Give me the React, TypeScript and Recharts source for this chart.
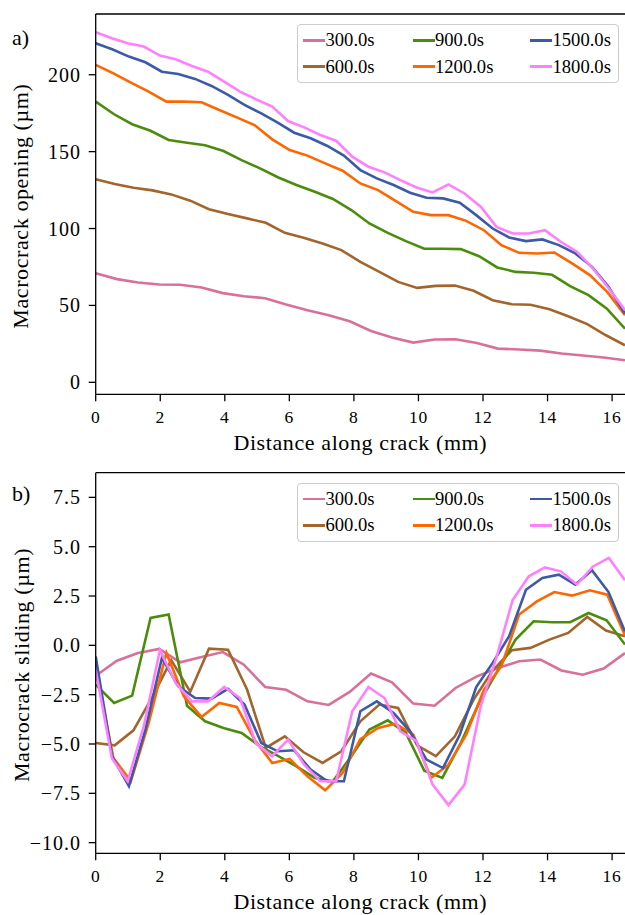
import React from 'react';
import { LineChart, Line, XAxis, YAxis, ReferenceLine, Label } from 'recharts';

const FONT = 'Liberation Serif';

// ---- categories / series ----
const seriesNames = ['300.0s', '600.0s', '900.0s', '1200.0s', '1500.0s', '1800.0s'];
const seriesColors = ['#d8709a', '#a2652b', '#4c8c0c', '#ff6600', '#3c5aa6', '#ff80ff'];

// ---- distance along crack (mm) per series ----
const x300 = [0, 0.66, 1.31, 1.97, 2.62, 3.28, 3.94, 4.59, 5.25, 5.9, 6.56, 7.22, 7.87, 8.53, 9.18, 9.84, 10.5, 11.15, 11.81, 12.46, 13.12, 13.78, 14.43, 15.09, 15.74, 16.4];
const x600 = [0, 0.59, 1.17, 1.76, 2.34, 2.93, 3.51, 4.1, 4.69, 5.27, 5.86, 6.44, 7.03, 7.61, 8.2, 8.79, 9.37, 9.96, 10.54, 11.13, 11.71, 12.3, 12.89, 13.47, 14.06, 14.64, 15.23, 15.81, 16.4];
const x900 = [0, 0.57, 1.13, 1.7, 2.26, 2.83, 3.39, 3.96, 4.52, 5.09, 5.66, 6.22, 6.79, 7.35, 7.92, 8.48, 9.05, 9.61, 10.18, 10.74, 11.31, 11.88, 12.44, 13.01, 13.57, 14.14, 14.7, 15.27, 15.83, 16.4];
const x1200 = [0, 0.55, 1.09, 1.64, 2.19, 2.73, 3.28, 3.83, 4.37, 4.92, 5.47, 6.01, 6.56, 7.11, 7.65, 8.2, 8.75, 9.29, 9.84, 10.39, 10.93, 11.48, 12.03, 12.57, 13.12, 13.67, 14.21, 14.76, 15.31, 15.85, 16.4];
const x1500 = [0, 0.51, 1.03, 1.54, 2.05, 2.56, 3.08, 3.59, 4.1, 4.61, 5.13, 5.64, 6.15, 6.66, 7.18, 7.69, 8.2, 8.71, 9.23, 9.74, 10.25, 10.76, 11.28, 11.79, 12.3, 12.81, 13.33, 13.84, 14.35, 14.86, 15.38, 15.89, 16.4];
const x1800 = [0, 0.5, 0.99, 1.49, 1.99, 2.48, 2.98, 3.48, 3.98, 4.47, 4.97, 5.47, 5.96, 6.46, 6.96, 7.45, 7.95, 8.45, 8.95, 9.44, 9.94, 10.44, 10.93, 11.43, 11.93, 12.42, 12.92, 13.42, 13.92, 14.41, 14.91, 15.41, 15.9, 16.4];

// ---- a) macrocrack opening (µm) ----
const opening300 = [70.9, 67.1, 64.9, 63.6, 63.4, 61.6, 58.0, 56.0, 54.7, 50.6, 46.9, 43.6, 39.7, 33.4, 29.1, 25.8, 27.8, 28.0, 25.6, 21.9, 21.3, 20.6, 18.7, 17.4, 16.1, 14.3];
const opening600 = [132, 128.9, 126.5, 124.8, 122.2, 118.1, 112.6, 109.4, 106.6, 103.7, 97.2, 94, 90.3, 86, 78.3, 71.8, 65.3, 61.4, 62.7, 62.9, 59.5, 53.4, 50.8, 50.4, 47.5, 43, 37.8, 30.6, 24.1];
const opening900 = [182.5, 174.3, 167.8, 163.6, 157.6, 155.8, 154.1, 150.4, 144.5, 139.1, 133.2, 128.3, 123.9, 119.2, 112, 103.3, 97.2, 91.8, 86.8, 86.8, 86.6, 82, 74.7, 71.8, 71.2, 69.9, 62.5, 56.7, 48, 34.9];
const opening1200 = [206.4, 200.9, 194.9, 189, 182.5, 182.5, 182.1, 177.1, 172.3, 167.3, 158, 151, 147.4, 142.4, 137.6, 129.3, 125, 118, 110.9, 108.7, 108.7, 105, 98.9, 89.2, 84.2, 83.8, 84.4, 77.3, 69.7, 58.8, 43.6];
const opening1500 = [220.5, 216.6, 211.8, 208.1, 202, 200.5, 197.3, 192.7, 186.9, 180.4, 174.9, 168.9, 162.3, 158.7, 153.7, 147.4, 138, 132.6, 128.3, 123.3, 120, 119.6, 116.8, 108.7, 100, 94.2, 91.8, 92.9, 89.2, 83.8, 75.1, 62.1, 44.7];
const opening1800 = [227.6, 223.7, 220.5, 218.3, 212.5, 210.1, 205.7, 202, 195.5, 189, 184, 179.3, 169.9, 165.8, 160.8, 157.1, 146.7, 140.2, 136.5, 131.5, 126.7, 123.5, 128.7, 122.8, 114.2, 101.1, 96.8, 96.8, 98.9, 91.4, 84.9, 74, 61, 46.9];

// ---- b) macrocrack sliding (µm) ----
const sliding300 = [-1.54, -0.78, -0.39, -0.18, -0.86, -0.59, -0.34, -0.98, -2.11, -2.25, -2.84, -3.02, -2.36, -1.43, -1.87, -2.95, -3.06, -2.16, -1.57, -1.15, -0.81, -0.72, -1.27, -1.49, -1.18, -0.39];
const sliding600 = [-4.95, -5.07, -4.31, -2.6, -0.75, -2.35, -0.17, -0.22, -2.24, -5.2, -4.61, -5.42, -5.96, -5.37, -3.85, -3.0, -3.17, -5.07, -5.62, -4.61, -2.75, -1.28, -0.25, -0.13, 0.29, 0.63, 1.44, 0.75, 0.46];
const sliding900 = [-1.99, -2.92, -2.55, 1.39, 1.56, -3.06, -3.85, -4.19, -4.44, -5.12, -5.62, -6.13, -6.72, -6.89, -5.62, -4.27, -3.8, -4.44, -6.35, -6.72, -4.95, -2.92, -1.32, 0.29, 1.22, 1.17, 1.17, 1.64, 1.27, 0.04];
const sliding1200 = [-1.2, -5.71, -6.89, -3.94, -0.39, -2.58, -3.63, -2.92, -3.12, -4.78, -5.96, -5.76, -6.64, -7.35, -6.47, -4.75, -4.19, -3.97, -4.53, -6.72, -6.05, -4.53, -2.25, -1.06, 1.56, 2.23, 2.7, 2.52, 2.79, 2.57, 0.5];
const sliding1500 = [-0.56, -5.63, -7.14, -4.27, -0.64, -2.08, -2.67, -2.7, -2.21, -3.0, -4.95, -5.37, -5.32, -6.3, -6.89, -6.89, -3.34, -2.84, -3.43, -4.36, -5.79, -6.22, -4.53, -2.11, -0.89, 0.46, 2.82, 3.41, 3.58, 3.08, 3.8, 2.7, 0.7];
const sliding1800 = [-1.23, -5.71, -6.89, -4.1, -0.25, -1.91, -2.84, -2.84, -2.11, -2.67, -4.98, -5.62, -4.78, -6.05, -6.89, -6.89, -3.34, -2.11, -2.67, -4.36, -4.86, -7.06, -8.1, -7.06, -3.09, -0.6, 2.3, 3.5, 3.95, 3.75, 3.08, 4.0, 4.43, 3.3];

// ---- ticks ----
const xTicks = [0, 2, 4, 6, 8, 10, 12, 14, 16];
const openingTicks = [0, 50, 100, 150, 200];
const slidingTicks = [-10, -7.5, -5, -2.5, 0, 2.5, 5, 7.5];

const xGrids = [x300, x600, x900, x1200, x1500, x1800];
const openingSeries = [opening300, opening600, opening900, opening1200, opening1500, opening1800];
const slidingSeries = [sliding300, sliding600, sliding900, sliding1200, sliding1500, sliding1800];

const toPoints = (xs: number[], ys: number[]) => xs.map((x, i) => ({ x, y: ys[i] }));

const AXIS_STYLE = { stroke: '#000', strokeWidth: 1.3 };

function XTick(props: any) {
  const { x, y, payload } = props;
  return (
    <text x={x} y={y} dy={19} textAnchor="middle" fontFamily={FONT} fontSize={17.5} letterSpacing={0.8} fill="#000">
      {String(payload.value)}
    </text>
  );
}

function makeYTick(fmt: (v: number) => string) {
  return (props: any) => {
    const { x, y, payload } = props;
    return (
      <text x={x} y={y} dy="0.35em" textAnchor="end" fontFamily={FONT} fontSize={20} letterSpacing={1} fill="#000">
        {fmt(payload.value)}
      </text>
    );
  };
}

const fmtInt = (v: number) => String(v);
const fmtOne = (v: number) => v.toFixed(1).replace('-', '\u2212');

type PanelProps = {
  series: number[][];
  yDomain: [number, number];
  yTicks: number[];
  yFmt: (v: number) => string;
  yLabel: string;
  tag: string;
  height: number;
  marginTop: number;
  xAxisHeight: number;
  tagBaseline: number;
};

function Panel({ series, yDomain, yTicks, yFmt, yLabel, tag, height, marginTop, xAxisHeight, tagBaseline }: PanelProps) {
  const plotH = height - marginTop - xAxisHeight;
  const legendTop = marginTop + 10;
  const cols = [
    { line: 6, text: 28.5 },
    { line: 115.5, text: 138 },
    { line: 233, text: 255.5 },
  ];
  const rows = [15.4, 41.6];
  return (
    <div style={{ position: 'relative', width: 625, height }}>
      <LineChart width={625} height={height} margin={{ top: marginTop, right: 0, bottom: 0, left: 0 }}>
        <XAxis
          type="number"
          dataKey="x"
          domain={[0, 16.4]}
          ticks={xTicks}
          interval={0}
          allowDataOverflow
          height={xAxisHeight}
          tickSize={7}
          tickMargin={3}
          tick={(p: any) => <XTick {...p} />}
          axisLine={AXIS_STYLE}
          tickLine={AXIS_STYLE}
        >
          <Label
            content={(p: any) => {
              const vb = p.viewBox || { x: 95.7, y: marginTop + plotH, width: 529.3 };
              return (
                <text x={vb.x + vb.width / 2} y={vb.y + 55.7} textAnchor="middle" fontFamily={FONT} fontSize={22} letterSpacing={0.6} fill="#000">
                  Distance along crack (mm)
                </text>
              );
            }}
          />
        </XAxis>
        <YAxis
          type="number"
          domain={yDomain}
          ticks={yTicks}
          interval={0}
          allowDataOverflow
          width={95.7}
          tickSize={7}
          tickMargin={7.7}
          tick={makeYTick(yFmt)}
          axisLine={AXIS_STYLE}
          tickLine={AXIS_STYLE}
        >
          <Label
            content={() => {
              const cy = marginTop + plotH / 2 + 2;
              const cx = 28.5;
              return (
                <text x={cx} y={cy} transform={`rotate(-90 ${cx} ${cy})`} textAnchor="middle" fontFamily={FONT} fontSize={22} letterSpacing={0.6} fill="#000">
                  {yLabel}
                </text>
              );
            }}
          />
        </YAxis>
        <ReferenceLine y={yDomain[1]} stroke="#000" strokeWidth={1.3} />
        {series.map((ys, i) => (
          <Line
            key={seriesNames[i]}
            data={toPoints(xGrids[i], ys)}
            dataKey="y"
            type="linear"
            stroke={seriesColors[i]}
            strokeWidth={2.6}
            dot={false}
            activeDot={false}
            isAnimationActive={false}
            name={seriesNames[i]}
          />
        ))}
      </LineChart>
      <div
        style={{
          position: 'absolute',
          left: 12,
          top: tagBaseline - 17,
          fontFamily: FONT,
          fontSize: 22,
          lineHeight: '22px',
          color: '#000',
        }}
      >
        {tag}
      </div>
      <div
        style={{
          position: 'absolute',
          left: 297,
          top: legendTop,
          width: 322,
          height: 59,
          boxSizing: 'border-box',
          border: '1px solid #cccccc',
          borderRadius: 4,
          background: 'rgba(255,255,255,0.8)',
        }}
      >
        {seriesNames.map((name, i) => {
          const col = cols[Math.floor(i / 2)];
          const row = rows[i % 2];
          return (
            <React.Fragment key={name}>
              <div
                style={{
                  position: 'absolute',
                  left: col.line - 1,
                  top: row - 1.3,
                  width: 22,
                  height: 2.6,
                  background: seriesColors[i],
                }}
              />
              <div
                style={{
                  position: 'absolute',
                  left: col.text - 1,
                  top: row,
                  transform: 'translateY(-50%)',
                  fontFamily: FONT,
                  fontSize: 18.6,
                  lineHeight: 1,
                  whiteSpace: 'nowrap',
                  color: '#000',
                }}
              >
                {name}
              </div>
            </React.Fragment>
          );
        })}
      </div>
    </div>
  );
}

export default function App() {
  return (
    <div style={{ position: 'absolute', left: 0, top: 0, width: 625, height: 915, background: '#fff', overflow: 'hidden' }}>
      <Panel
        series={openingSeries}
        yDomain={[-7.8, 239.5]}
        yTicks={openingTicks}
        yFmt={fmtInt}
        yLabel="Macrocrack opening (µm)"
        tag="a)"
        height={460}
        marginTop={14}
        xAxisHeight={65.7}
        tagBaseline={44}
      />
      <Panel
        series={slidingSeries}
        yDomain={[-10.54, 8.75]}
        yTicks={slidingTicks}
        yFmt={fmtOne}
        yLabel="Macrocrack sliding (µm)"
        tag="b)"
        height={455}
        marginTop={12.7}
        xAxisHeight={61.7}
        tagBaseline={40}
      />
    </div>
  );
}
